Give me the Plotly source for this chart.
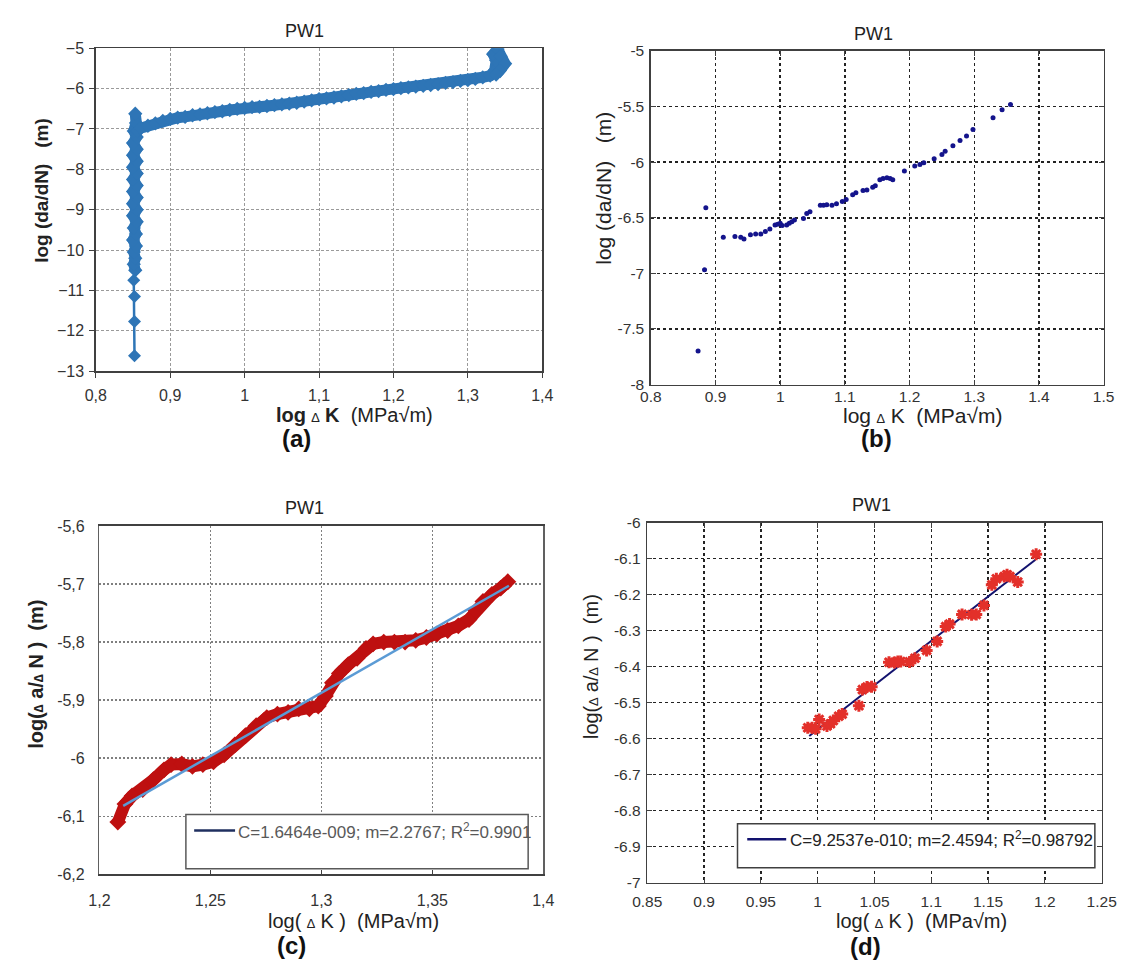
import plotly.graph_objects as go

W, H = 1142, 972

# ---------------- Panel (a) data ----------------
# sparse lower tail of the curve
a_tail_x = [0.852, 0.852, 0.852, 0.851, 0.853]
a_tail_y = [-12.62, -11.77, -11.15, -10.75, -10.5]
# dense band (vertical threshold part + Paris region)
a_x = [0.853, 0.851, 0.853, 0.851, 0.854, 0.850, 0.854, 0.851, 0.855, 0.850, 0.855, 0.850,
       0.855, 0.850, 0.855, 0.850, 0.855, 0.850, 0.855, 0.850, 0.855, 0.850, 0.855, 0.851,
       0.854, 0.853, 0.856,
       0.86, 0.87, 0.88, 0.89, 0.90, 0.91, 0.92, 0.93, 0.94, 0.95, 0.96, 0.97, 0.98, 0.99,
       1.00, 1.01, 1.02, 1.03, 1.04, 1.05, 1.06, 1.07, 1.08, 1.09, 1.10, 1.11, 1.12, 1.13,
       1.14, 1.15, 1.16, 1.17, 1.18, 1.19, 1.20, 1.21, 1.22, 1.23, 1.24, 1.25, 1.26, 1.27,
       1.28, 1.29, 1.30, 1.31, 1.32, 1.33, 1.336, 1.338, 1.334, 1.340, 1.344, 1.350, 1.343, 1.338]
a_y = [-10.5, -10.35, -10.2, -10.05, -9.9, -9.75, -9.6, -9.45, -9.3, -9.15, -9.0, -8.85,
       -8.7, -8.55, -8.4, -8.25, -8.1, -7.95, -7.8, -7.65, -7.5, -7.35, -7.2, -7.05,
       -6.85, -6.62, -7.05,
       -6.98, -6.92, -6.86, -6.80, -6.75, -6.72, -6.70, -6.66, -6.64, -6.61, -6.58, -6.56, -6.53, -6.50,
       -6.48, -6.46, -6.45, -6.43, -6.41, -6.39, -6.37, -6.35, -6.32, -6.29, -6.26, -6.24, -6.22, -6.19,
       -6.16, -6.13, -6.11, -6.08, -6.06, -6.03, -6.01, -5.99, -5.97, -5.95, -5.93, -5.91, -5.89, -5.86,
       -5.84, -5.81, -5.79, -5.76, -5.72, -5.68, -5.55, -5.30, -5.15, -5.02, -5.20, -5.38, -5.55, -5.65]
a_xticks = [0.8, 0.9, 1.0, 1.1, 1.2, 1.3, 1.4]
a_xlabels = ["0,8", "0,9", "1", "1,1", "1,2", "1,3", "1,4"]
a_yticks = [-13, -12, -11, -10, -9, -8, -7, -6, -5]

# ---------------- Panel (b) data ----------------
b_x = [0.873, 0.883, 0.885, 0.912, 0.930, 0.939, 0.944, 0.954, 0.962, 0.970, 0.977, 0.984, 0.992,
       0.996, 1.000, 1.003, 1.010, 1.014, 1.018, 1.022, 1.036, 1.041, 1.046, 1.062, 1.067, 1.072,
       1.080, 1.087, 1.096, 1.102, 1.112, 1.117, 1.128, 1.134, 1.143, 1.147, 1.154, 1.159, 1.165,
       1.170, 1.174, 1.192, 1.208, 1.216, 1.222, 1.238, 1.250, 1.255, 1.267, 1.278, 1.288, 1.298,
       1.329, 1.343, 1.356]
b_y = [-7.697, -6.968, -6.41, -6.676, -6.668, -6.676, -6.69, -6.653, -6.647, -6.647, -6.624, -6.60,
       -6.565, -6.559, -6.55, -6.57, -6.565, -6.55, -6.535, -6.52, -6.506, -6.462, -6.447, -6.388,
       -6.388, -6.382, -6.388, -6.374, -6.353, -6.335, -6.294, -6.276, -6.256, -6.25, -6.226, -6.212,
       -6.159, -6.147, -6.141, -6.147, -6.159, -6.079, -6.035, -6.021, -6.006, -5.97, -5.932, -5.903,
       -5.853, -5.806, -5.765, -5.706, -5.60, -5.529, -5.482]
b_xticks = [0.8, 0.9, 1.0, 1.1, 1.2, 1.3, 1.4, 1.5]
b_xlabels = ["0.8", "0.9", "1", "1.1", "1.2", "1.3", "1.4", "1.5"]
b_yticks = [-8, -7.5, -7, -6.5, -6, -5.5, -5]
b_ylabels = ["-8", "-7.5", "-7", "-6.5", "-6", "-5.5", "-5"]

# ---------------- Panel (c) data ----------------
c_x = [1.2083, 1.2115, 1.2147, 1.2195, 1.2243, 1.2291, 1.2323, 1.2371, 1.2419, 1.2466, 1.2514,
       1.2562, 1.2610, 1.2658, 1.2706, 1.2754, 1.2802, 1.2850, 1.2898, 1.2946, 1.2986, 1.3018,
       1.3050, 1.3081, 1.3121, 1.3161, 1.3201, 1.3233, 1.3281, 1.3329, 1.3377, 1.3425, 1.3473,
       1.3521, 1.3569, 1.3617, 1.3665, 1.3696, 1.3728, 1.3768, 1.3808, 1.3840]
c_y = [-6.110, -6.079, -6.065, -6.054, -6.037, -6.020, -6.011, -6.010, -6.014, -6.011, -6.006,
       -5.994, -5.977, -5.961, -5.944, -5.930, -5.924, -5.921, -5.915, -5.915, -5.910, -5.893,
       -5.870, -5.854, -5.839, -5.828, -5.811, -5.803, -5.800, -5.800, -5.800, -5.797, -5.792,
       -5.786, -5.780, -5.772, -5.761, -5.746, -5.730, -5.718, -5.707, -5.696]
c_fit_x = [1.2107, 1.3845]
c_fit_y = [-6.082, -5.703]
c_xticks = [1.2, 1.25, 1.3, 1.35, 1.4]
c_xlabels = ["1,2", "1,25", "1,3", "1,35", "1,4"]
c_yticks = [-6.2, -6.1, -6.0, -5.9, -5.8, -5.7, -5.6]
c_ylabels = ["-6,2", "-6,1", "-6", "-5,9", "-5,8", "-5,7", "-5,6"]
c_legend = "C=1.6464e-009; m=2.2767; R<sup>2</sup>=0.9901"

# ---------------- Panel (d) data ----------------
d_x = [0.9913, 0.9951, 0.9982, 1.0013, 1.0082, 1.0113, 1.0138, 1.0185, 1.0216, 1.0363, 1.0394,
       1.0434, 1.0475, 1.0628, 1.0675, 1.0706, 1.0731, 1.0809, 1.0856, 1.0959, 1.1052, 1.1127,
       1.1161, 1.1271, 1.1355, 1.1396, 1.1464, 1.1533, 1.1573, 1.1642, 1.1667, 1.1692, 1.1761,
       1.1923]
d_y = [-6.570, -6.570, -6.573, -6.547, -6.565, -6.559, -6.550, -6.538, -6.532, -6.509, -6.464,
       -6.457, -6.456, -6.388, -6.389, -6.386, -6.386, -6.387, -6.377, -6.355, -6.330, -6.289,
       -6.282, -6.255, -6.256, -6.255, -6.230, -6.173, -6.156, -6.150, -6.145, -6.150, -6.165,
       -6.088]
d_fit_x = [0.9926, 1.1917]
d_fit_y = [-6.593, -6.103]
d_xticks = [0.85, 0.9, 0.95, 1.0, 1.05, 1.1, 1.15, 1.2, 1.25]
d_xlabels = ["0.85", "0.9", "0.95", "1", "1.05", "1.1", "1.15", "1.2", "1.25"]
d_yticks = [-7, -6.9, -6.8, -6.7, -6.6, -6.5, -6.4, -6.3, -6.2, -6.1, -6]
d_ylabels = ["-7", "-6.9", "-6.8", "-6.7", "-6.6", "-6.5", "-6.4", "-6.3", "-6.2", "-6.1", "-6"]
d_legend = "C=9.2537e-010; m=2.4594; R<sup>2</sup>=0.98792"

TITLE = "PW1"

# ---------------- helpers ----------------
def px(x):
    return x / W


def py(y):
    return 1 - y / H


FONT = "Liberation Sans, Arial, sans-serif"
DELTA = "<span style='font-size:13px'>\u2206</span>"
SP = "\u00a0"
BLUE = "#2E75B6"
RED_C = "#BE1010"
RED_D = "#E3302A"

fig = go.Figure()

fig.add_trace(go.Scatter(x=a_tail_x, y=a_tail_y, mode="lines+markers", xaxis="x", yaxis="y",
                         line=dict(color=BLUE, width=2.5),
                         marker=dict(symbol="diamond", size=10, color=BLUE),
                         showlegend=False))
fig.add_trace(go.Scatter(x=a_x, y=a_y, mode="lines+markers", xaxis="x", yaxis="y",
                         line=dict(color=BLUE, width=11),
                         marker=dict(symbol="diamond", size=11, color=BLUE),
                         showlegend=False))
fig.add_trace(go.Scatter(x=b_x, y=b_y, mode="markers", xaxis="x2", yaxis="y2",
                         marker=dict(symbol="circle", size=5, color="#14148C"),
                         showlegend=False))
fig.add_trace(go.Scatter(x=c_x, y=c_y, mode="lines+markers", xaxis="x3", yaxis="y3",
                         line=dict(color=RED_C, width=12),
                         marker=dict(symbol="diamond", size=13, color=RED_C),
                         showlegend=False))
fig.add_trace(go.Scatter(x=c_fit_x, y=c_fit_y, mode="lines", xaxis="x3", yaxis="y3",
                         line=dict(color="#5B9BD5", width=2.5), showlegend=False))
fig.add_trace(go.Scatter(x=d_fit_x, y=d_fit_y, mode="lines", xaxis="x4", yaxis="y4",
                         line=dict(color="#12126E", width=2), showlegend=False))
fig.add_trace(go.Scatter(x=d_x, y=d_y, mode="markers", xaxis="x4", yaxis="y4",
                         marker=dict(symbol="asterisk-open", size=10, color=RED_D,
                                     line=dict(color=RED_D, width=3)),
                         showlegend=False))

# axes boxes (pixels): left, right, top, bottom
boxes = {
    "a": (83, 541.5, 40, 369),
    "b": (653, 1118, 42.7, 382.7),
    "c": (86.7, 542.6, 526.7, 881.7),
    "d": (649.3, 1116, 523.3, 890),
}


def dom(key):
    l, r, t, b = boxes[key]
    return [px(l), px(r)], [py(b), py(t)]


tickfont_x = dict(family=FONT, size=16, color="#333333")
tickfont_m = dict(family=FONT, size=15.5, color="#333333")

xd, yd = dom("a")
fig.update_layout(
    xaxis=dict(domain=xd, anchor="y", range=[0.8, 1.4], tickvals=a_xticks, ticktext=a_xlabels,
               showgrid=True, gridcolor="#9A9A9A", griddash="3px,2px", gridwidth=1,
               showline=True, linecolor="#404040", linewidth=1.5, mirror=True,
               ticks="outside", ticklen=5, tickcolor="#404040", tickfont=tickfont_x,
               ticklabelstandoff=4, zeroline=False),
    yaxis=dict(domain=yd, anchor="x", range=[-13, -5], tickvals=a_yticks,
               showgrid=True, gridcolor="#9A9A9A", griddash="3px,2px", gridwidth=1,
               showline=True, linecolor="#404040", linewidth=1.5, mirror=True,
               ticks="outside", ticklen=5, tickcolor="#404040", tickfont=tickfont_x,
               ticklabelstandoff=2, zeroline=False),
)
xd, yd = dom("b")
fig.update_layout(
    xaxis2=dict(domain=xd, anchor="y2", range=[0.8, 1.5], tickvals=b_xticks, ticktext=b_xlabels,
                showgrid=True, gridcolor="#222222", griddash="dot", gridwidth=1.5,
                showline=True, linecolor="#404040", linewidth=1.5, mirror="ticks",
                ticks="inside", ticklen=5, tickcolor="#404040", tickfont=tickfont_m,
                ticklabelstandoff=-3, zeroline=False),
    yaxis2=dict(domain=yd, anchor="x2", range=[-8, -5], tickvals=b_yticks, ticktext=b_ylabels,
                showgrid=True, gridcolor="#222222", griddash="dot", gridwidth=1.5,
                showline=True, linecolor="#404040", linewidth=1.5, mirror="ticks",
                ticks="inside", ticklen=5, tickcolor="#404040", tickfont=tickfont_m,
                ticklabelstandoff=2, zeroline=False),
)
xd, yd = dom("c")
fig.update_layout(
    xaxis3=dict(domain=xd, anchor="y3", range=[1.2, 1.4], tickvals=c_xticks, ticktext=c_xlabels,
                showgrid=True, gridcolor="#7F7F7F", griddash="2px,2px", gridwidth=1.5,
                showline=True, linecolor="#404040", linewidth=1.5, mirror=True,
                ticks="inside", ticklen=4, tickcolor="#404040", tickfont=tickfont_x,
                ticklabelstandoff=11, zeroline=False),
    yaxis3=dict(domain=yd, anchor="x3", range=[-6.2, -5.6], tickvals=c_yticks, ticktext=c_ylabels,
                showgrid=True, gridcolor="#7F7F7F", griddash="2px,2px", gridwidth=1.5,
                showline=True, linecolor="#606060", linewidth=1.5, mirror=True,
                ticks="", tickfont=tickfont_x, ticklabelstandoff=10, zeroline=False),
)
xd, yd = dom("d")
fig.update_layout(
    xaxis4=dict(domain=xd, anchor="y4", range=[0.85, 1.25], tickvals=d_xticks, ticktext=d_xlabels,
                showgrid=True, gridcolor="#222222", griddash="dot", gridwidth=1.5,
                showline=True, linecolor="#404040", linewidth=1.5, mirror="ticks",
                ticks="inside", ticklen=5, tickcolor="#404040", tickfont=tickfont_m,
                ticklabelstandoff=4, zeroline=False),
    yaxis4=dict(domain=yd, anchor="x4", range=[-7, -6], tickvals=d_yticks, ticktext=d_ylabels,
                showgrid=True, gridcolor="#222222", griddash="dot", gridwidth=1.5,
                showline=True, linecolor="#404040", linewidth=1.5, mirror="ticks",
                ticks="inside", ticklen=5, tickcolor="#404040", tickfont=tickfont_m,
                ticklabelstandoff=2, zeroline=False),
)

annotations = []


def text(x, y, s, size, angle=0, color="#222222", bold=False, xanchor="center"):
    if bold:
        s = "<b>" + s + "</b>"
    annotations.append(dict(x=px(x), y=py(y), xref="paper", yref="paper", text=s,
                            showarrow=False, textangle=angle, xanchor=xanchor, yanchor="middle",
                            font=dict(family=FONT, size=size, color=color)))


# panel titles
text(297, 22, TITLE, 18)
text(882, 25, TITLE, 18)
text(297, 508, TITLE, 18)
text(880, 505, TITLE, 18)

# y-axis titles
text(27, 185, "log (da/dN)" + SP * 3 + "(m)", 19, angle=-90, bold=True)
text(604, 183, "log (da/dN)" + SP * 3 + "(m)", 21, angle=-90)
text(22, 678, "log(" + DELTA + " a/" + DELTA + " N )" + SP * 2 + "(m)", 20, angle=-90, bold=True)
text(591, 670, "log(" + DELTA + " a/" + DELTA + " N )" + SP * 2 + "(m)", 20, angle=-90)

# x-axis titles
text(349, 414, "<b>log</b> " + DELTA + " <b>K</b>" + SP * 2 + "(MPa\u221am)", 20)
text(933, 414, "log " + DELTA + " K" + SP * 2 + "(MPa\u221am)", 21)
text(348, 929, "log( " + DELTA + " K )" + SP * 2 + "(MPa\u221am)", 20)
text(931, 929, "log( " + DELTA + " K )" + SP * 2 + "(MPa\u221am)", 20)

# sub-figure labels
text(289, 438, "(a)", 24, bold=True, color="#111111")
text(885, 438, "(b)", 24, bold=True, color="#111111")
text(284, 954, "(c)", 24, bold=True, color="#111111")
text(873, 955, "(d)", 24, bold=True, color="#111111")

# legend texts
text(227, 837, c_legend, 17, color="#595959", xanchor="left")
text(794, 846, d_legend, 17, color="#222222", xanchor="left")

shapes = [
    dict(type="rect", xref="paper", yref="paper", x0=px(175.5), x1=px(527), y0=py(876), y1=py(820.7),
         line=dict(color="#595959", width=1.5), fillcolor="white", layer="above"),
    dict(type="line", xref="paper", yref="paper", x0=px(184), x1=px(226), y0=py(837), y1=py(837),
         line=dict(color="#1F2F5F", width=2.5)),
    dict(type="rect", xref="paper", yref="paper", x0=px(742), x1=px(1109), y0=py(875), y1=py(830),
         line=dict(color="#404040", width=1.5), fillcolor="white", layer="above"),
    dict(type="line", xref="paper", yref="paper", x0=px(752), x1=px(792), y0=py(846), y1=py(846),
         line=dict(color="#12126E", width=2.5)),
]

fig.update_layout(
    width=W, height=H, margin=dict(l=0, r=0, t=0, b=0),
    paper_bgcolor="white", plot_bgcolor="white",
    annotations=annotations, shapes=shapes, showlegend=False,
    font=dict(family=FONT), hovermode=False,
)

fig.write_html("out.html", config={"displayModeBar": False, "staticPlot": True},
               post_script="document.body.style.margin='0';document.body.style.overflow='hidden';")
